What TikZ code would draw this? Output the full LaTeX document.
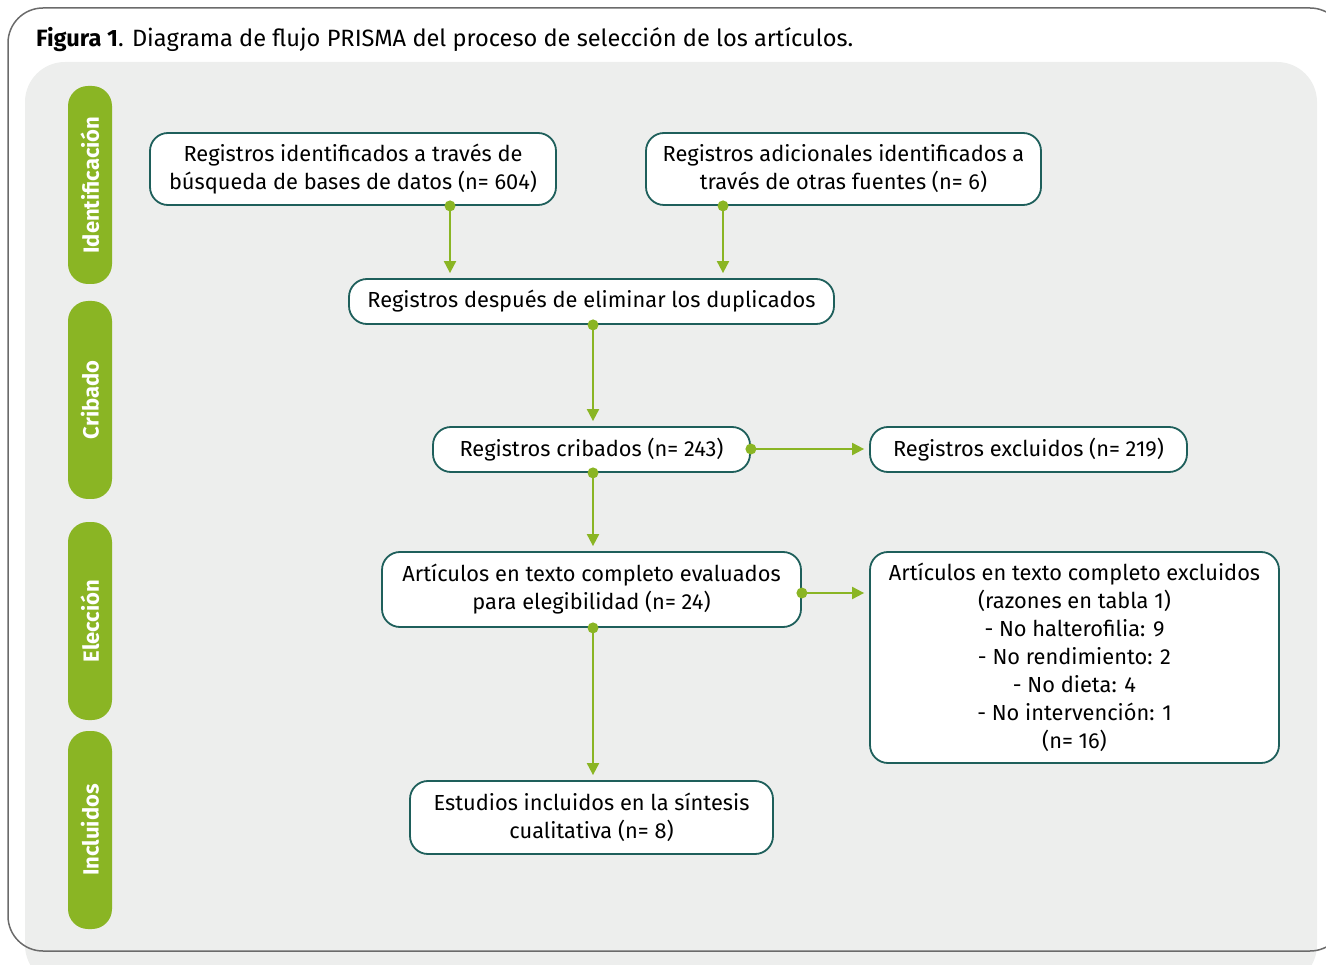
\documentclass[tikz,border=0pt]{standalone}
\usepackage{fontspec}
\setmainfont{Fira Sans}
\usetikzlibrary{arrows.meta}
\definecolor{lgreen}{HTML}{8AB524}
\definecolor{panel}{HTML}{EDEEED}
\definecolor{darkteal}{HTML}{1E5F5B}
\definecolor{framegray}{HTML}{6B6B6B}
\begin{document}
\begin{tikzpicture}[x=1pt,y=-1pt,
  box/.style={draw=darkteal, line width=1.8pt, fill=white, rounded corners=18pt, align=center, inner sep=0pt, font=\fontsize{21.8}{28}\selectfont},
  phase/.style={fill=lgreen, rounded corners=20pt, minimum width=198pt, minimum height=44pt, inner sep=0pt, rotate=90, text=white, font=\bfseries\fontsize{22}{26}\selectfont},
  conn/.style={draw=lgreen, line width=2pt, -{Triangle[length=12pt,width=12pt]}, shorten >=5pt},
  dot/.style={fill=lgreen}
]
\useasboundingbox (0,0) rectangle (1326,965);
\clip (0,0) rectangle (1326,965);
% background panel and frame
\fill[panel, rounded corners=40pt] (25,62) rectangle (1317,985);
\draw[framegray, line width=1.5pt, rounded corners=35pt] (8,8) rectangle (1345,951);
% title
\node[anchor=base west, inner sep=0pt, font=\fontsize{23.6}{28}\selectfont] (title) at (36,47) {\textbf{Figura 1}. Diagrama de flujo PRISMA del proceso de selección de los artículos.};
% phases
\node[phase] (p1) at (90,185) {Identificación};
\node[phase] (p2) at (90,400) {Cribado};
\node[phase] (p3) at (90,621) {Elección};
\node[phase] (p4) at (90,830) {Incluidos};
% boxes
\node[box, minimum width=406pt, minimum height=72pt] (A) at (353,169) {Registros identificados a través de\\búsqueda de bases de datos (n= 604)};
\node[box, minimum width=395pt, minimum height=72pt] (B) at (843.5,169) {Registros adicionales identificados a\\través de otras fuentes (n= 6)};
\node[box, minimum width=485pt, minimum height=45pt] (C) at (591.5,301.5) {Registros después de eliminar los duplicados};
\node[box, minimum width=317pt, minimum height=45pt] (D) at (591.5,449.5) {Registros cribados (n= 243)};
\node[box, minimum width=317pt, minimum height=45pt] (E) at (1028.5,449.5) {Registros excluidos (n= 219)};
\node[box, minimum width=419pt, minimum height=75pt] (F) at (591.5,589.5) {Artículos en texto completo evaluados\\para elegibilidad (n= 24)};
\node[box, minimum width=409pt, minimum height=211pt] (G) at (1074.5,657.5) {Artículos en texto completo excluidos\\(razones en tabla 1)\\- No halterofilia: 9\\- No rendimiento: 2\\- No dieta: 4\\- No intervención: 1\\(n= 16)};
\node[box, minimum width=363pt, minimum height=73pt] (H) at (591.5,817.5) {Estudios incluidos en la síntesis\\cualitativa (n= 8)};
% connectors
\draw[conn] (A.south -| 450,0) -- (C.north -| 450,0);
\fill[dot] (A.south -| 450,0) circle (5.5pt);
\draw[conn] (B.south -| 723,0) -- (C.north -| 723,0);
\fill[dot] (B.south -| 723,0) circle (5.5pt);
\draw[conn] (C.south -| 593,0) -- (D.north -| 593,0);
\fill[dot] (C.south -| 593,0) circle (5.5pt);
\draw[conn] (D.east |- 0,449) -- (E.west |- 0,449);
\fill[dot] (D.east |- 0,449) circle (5.5pt);
\draw[conn] (D.south -| 593,0) -- (F.north -| 593,0);
\fill[dot] (D.south -| 593,0) circle (5.5pt);
\draw[conn] (F.east |- 0,593) -- (G.west |- 0,593);
\fill[dot] (F.east |- 0,593) circle (5.5pt);
\draw[conn] (F.south -| 593,0) -- (H.north -| 593,0);
\fill[dot] (F.south -| 593,0) circle (5.5pt);
\end{tikzpicture}
\end{document}
